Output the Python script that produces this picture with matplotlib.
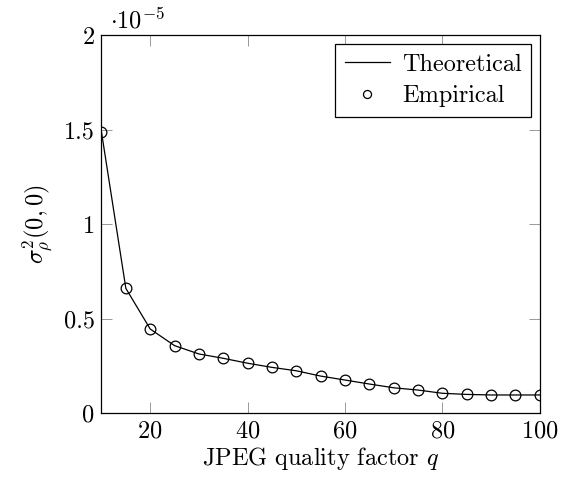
import matplotlib
matplotlib.use("Agg")
import matplotlib.pyplot as plt

# JPEG quality factor q and variance sigma^2 (in units of 1e-5)
quality = [10, 15, 20, 25, 30, 35, 40, 45, 50, 55, 60, 65, 70, 75, 80, 85, 90, 95, 100]
theoretical = [1.487, 0.661, 0.446, 0.358, 0.314, 0.291, 0.265, 0.243, 0.225, 0.197,
               0.176, 0.155, 0.135, 0.123, 0.106, 0.100, 0.097, 0.097, 0.097]
empirical = [1.487, 0.661, 0.446, 0.358, 0.314, 0.291, 0.265, 0.243, 0.225, 0.197,
             0.176, 0.155, 0.135, 0.123, 0.106, 0.100, 0.097, 0.097, 0.097]

xticks = [20, 40, 60, 80, 100]
yticks = [0, 0.5, 1, 1.5, 2]
ytick_labels = ["0", "0.5", "1", "1.5", "2"]

plt.rcParams["font.family"] = "serif"
plt.rcParams["font.serif"] = ["cmr10", "DejaVu Serif"]
plt.rcParams["mathtext.fontset"] = "cm"
plt.rcParams["axes.formatter.use_mathtext"] = True

FS = 17.5

fig = plt.figure(figsize=(5.67, 4.82), dpi=100)
ax = fig.add_axes([0.179, 0.1425, 0.773, 0.7845])

ax.plot(quality, theoretical, "-", color="black", lw=0.9, label="Theoretical")
ax.plot(quality, empirical, "o", color="black", mfc="none", ms=7.7, mew=0.9,
        label="Empirical")

ax.set_xlim(10, 100)
ax.set_ylim(0, 2)
ax.set_xticks(xticks)
ax.set_yticks(yticks)
ax.set_yticklabels(ytick_labels)
ax.tick_params(direction="in", top=True, right=True, length=8, width=0.6,
               color="#888888", labelsize=FS, pad=5)
for s in ax.spines.values():
    s.set_linewidth(0.9)

ax.set_xlabel("JPEG quality factor $q$", fontsize=FS, labelpad=2)
ax.set_ylabel(r"$\sigma_\rho^2(0,0)$", fontsize=FS, labelpad=6)
ax.text(0.02, 1.005, r"$\cdot 10^{-5}$", transform=ax.transAxes, fontsize=FS,
        ha="left", va="bottom")

leg = ax.legend(loc="upper right", fontsize=FS, fancybox=False, edgecolor="black",
                framealpha=1, handlelength=1.85, borderaxespad=0.35,
                borderpad=0.4, labelspacing=0.4, handletextpad=0.5,
                markerscale=0.75)
leg.get_frame().set_linewidth(0.9)

fig.savefig("out.png", dpi=100)
